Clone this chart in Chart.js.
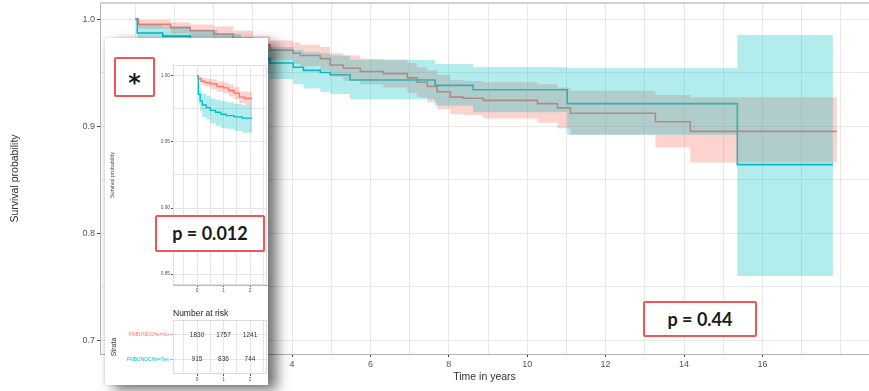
<!DOCTYPE html>
<html><head><meta charset="utf-8">
<script src="https://cdn.jsdelivr.net/npm/chart.js@4.4.0/dist/chart.umd.min.js"></script>
<style>
html,body{margin:0;padding:0;background:#fff;}
#wrap{position:relative;width:869px;height:391px;overflow:hidden;font-family:"Liberation Sans",Arial,sans-serif;}
#main{position:absolute;left:0;top:0;}
#inset{position:absolute;left:105px;top:38px;width:163px;height:347px;background:#fff;overflow:hidden;
  box-shadow:9px 5px 12px rgba(0,0,0,0.55), -1px 0 3px rgba(0,0,0,0.15);}
.rbox{position:absolute;box-sizing:border-box;border:2px solid #ef5656;background:#fff;border-radius:2px;
  font-family:Lato,"Open Sans",sans-serif;font-weight:700;color:#1a1a1a;text-align:center;}
#pmain{left:643px;top:301px;width:114px;height:36px;line-height:32px;font-size:18px;}
#star{left:9px;top:19px;width:41px;height:40px;line-height:36px;font-size:24px;font-family:"DejaVu Sans",sans-serif;}
#star span{position:relative;top:6px;}
#pinset{left:50px;top:177px;width:110px;height:37px;line-height:33px;font-size:18px;}
#nrisk{position:absolute;left:68px;top:270px;font-size:8.5px;color:#222;white-space:nowrap;}
#kmInset{position:absolute;left:2px;top:22px;}
#riskCanvas{position:absolute;left:2px;top:278px;}
</style></head>
<body>
<div id="wrap">
  <canvas id="main" width="869" height="391"></canvas>
  <div class="rbox" id="pmain">p = 0.44</div>
  <div id="inset">
    <div class="rbox" id="star"><span>*</span></div>
    <canvas id="kmInset" width="161" height="237"></canvas>
    <div class="rbox" id="pinset">p = 0.012</div>
    <div id="nrisk">Number at risk</div>
    <canvas id="riskCanvas" width="161" height="69"></canvas>
  </div>
</div>
<script>
// ---------- Main Kaplan-Meier data ----------
const redTime = [0, 0.08, 0.9, 1.4, 2.0, 2.5, 3.0, 3.44, 4.03, 4.21, 4.72, 4.97, 5.31, 5.74, 6.33, 6.94, 7.19, 7.45, 7.7, 8.04, 8.37, 8.88, 10.26, 10.77, 11.1, 13.27, 14.16, 17.9];
const redSurv = [1.000, 0.995, 0.992, 0.989, 0.986, 0.982, 0.976, 0.971, 0.968, 0.966, 0.963, 0.957, 0.954, 0.951, 0.949, 0.945, 0.941, 0.937, 0.932, 0.927, 0.926, 0.924, 0.921, 0.917, 0.912, 0.904, 0.895, 0.895];
const redHi   = [1.000, 0.999, 0.997, 0.995, 0.993, 0.989, 0.984, 0.980, 0.978, 0.976, 0.974, 0.968, 0.966, 0.963, 0.962, 0.959, 0.955, 0.952, 0.948, 0.943, 0.942, 0.941, 0.939, 0.936, 0.933, 0.929, 0.927, 0.927];
const redLo   = [1.000, 0.991, 0.987, 0.983, 0.979, 0.975, 0.968, 0.962, 0.958, 0.956, 0.952, 0.946, 0.942, 0.939, 0.936, 0.931, 0.927, 0.922, 0.916, 0.911, 0.910, 0.907, 0.903, 0.898, 0.892, 0.880, 0.866, 0.866];

const cyanTime = [0, 0.05, 0.7, 1.4, 2.1, 2.7, 3.1, 3.44, 4.03, 4.29, 4.72, 4.97, 5.48, 7.65, 8.62, 11.02, 15.36, 17.8];
const cyanSurv = [1.000, 0.987, 0.984, 0.979, 0.974, 0.968, 0.963, 0.959, 0.955, 0.952, 0.950, 0.948, 0.943, 0.938, 0.934, 0.921, 0.864, 0.864];
const cyanHi   = [1.000, 0.995, 0.993, 0.990, 0.986, 0.982, 0.977, 0.974, 0.971, 0.969, 0.968, 0.966, 0.962, 0.958, 0.955, 0.954, 0.985, 0.985];
const cyanLo   = [1.000, 0.979, 0.975, 0.968, 0.962, 0.954, 0.949, 0.944, 0.939, 0.935, 0.932, 0.930, 0.925, 0.919, 0.913, 0.892, 0.760, 0.760];

const xGrid = [0,1,2,3,4,5,6,7,8,9,10,11,12,13,14,15,16,17,18];
const xLabels = [0,2,4,6,8,10,12,14,16];
const yGrid = [0.70,0.75,0.80,0.85,0.90,0.95,1.00];
const yLabels = [0.7,0.8,0.9,1.0];

// ---------- Inset (first 2 years) data ----------
const inRedTime = [0, 0.05, 0.15, 0.3, 0.5, 0.75, 1.0, 1.2, 1.4, 1.6, 1.8, 2.08];
const inRedSurv = [1.000, 0.998, 0.996, 0.995, 0.994, 0.992, 0.991, 0.989, 0.987, 0.984, 0.983, 0.983];
const inRedHi   = [1.000, 0.9995, 0.999, 0.998, 0.9975, 0.996, 0.995, 0.9935, 0.9915, 0.9885, 0.988, 0.988];
const inRedLo   = [1.000, 0.9965, 0.9935, 0.992, 0.990, 0.988, 0.987, 0.9845, 0.9825, 0.9795, 0.978, 0.978];
const inCyanTime = [0, 0.05, 0.12, 0.2, 0.35, 0.5, 0.7, 0.9, 1.1, 1.4, 1.7, 2.08];
const inCyanSurv = [1.000, 0.986, 0.981, 0.978, 0.976, 0.974, 0.9725, 0.971, 0.970, 0.969, 0.968, 0.968];
const inCyanHi   = [1.000, 0.993, 0.989, 0.9865, 0.985, 0.983, 0.982, 0.981, 0.980, 0.979, 0.978, 0.978];
const inCyanLo   = [1.000, 0.979, 0.973, 0.969, 0.967, 0.964, 0.962, 0.9605, 0.960, 0.9585, 0.957, 0.957];
const inXGrid = [-0.5, 0, 0.5, 1, 1.5, 2, 2.5];
const inXLabels = [0, 1, 2];
const inYGrid = [0.85, 0.875, 0.90, 0.925, 0.95, 0.975, 1.00];
const inYLabels = [0.85, 0.90, 0.95, 1.00];

// ---------- Risk table ----------
const riskTimes = [0, 1, 2];
const riskRed = [1830, 1757, 1241];
const riskCyan = [915, 836, 744];
const strataLabels = ['FNBUNDCHe=No', 'FNBUNDCHe=Yes'];

const RED = '#F8766D', CYAN = '#00BFC4';
const RED_F = 'rgba(248,118,109,0.32)', CYAN_F = 'rgba(0,191,196,0.30)';
const pts = (t, v) => t.map((x, i) => ({x, y: v[i]}));
const near = (arr, v) => arr.some(m => Math.abs(m - v) < 1e-9);

function kmDatasets(rT, rS, rH, rL, cT, cS, cH, cL, lw) {
  const band = (d, fill, bg) => ({data: d, fill, backgroundColor: bg, borderWidth: 0, pointRadius: 0, stepped: 'before'});
  const line = (d, c) => ({data: d, fill: false, borderColor: c, borderWidth: lw, pointRadius: 0, stepped: 'before'});
  return [
    band(pts(cT, cH), '+1', CYAN_F),
    band(pts(cT, cL), false, 'transparent'),
    band(pts(rT, rH), '+1', RED_F),
    band(pts(rT, rL), false, 'transparent'),
    line(pts(cT, cS), CYAN),
    line(pts(rT, rS), RED)
  ];
}

const panelBorder = (color, width, onlyTop) => ({
  id: 'panelBorder',
  beforeDatasetsDraw(chart) {
    const {ctx, chartArea: a} = chart;
    ctx.save(); ctx.strokeStyle = color; ctx.lineWidth = width;
    ctx.beginPath();
    if (onlyTop) { ctx.moveTo(a.left, a.top); ctx.lineTo(a.right, a.top); }
    else { ctx.rect(a.left + 0.5, a.top + 0.5, a.right - a.left - 1, a.bottom - a.top - 1); }
    ctx.stroke(); ctx.restore();
  }
});

const noPad = s => { s.paddingTop = 0; s.paddingBottom = 0; s.paddingLeft = 0; s.paddingRight = 0; };

// ---------- Main chart ----------
new Chart(document.getElementById('main'), {
  type: 'line',
  data: {datasets: kmDatasets(redTime, redSurv, redHi, redLo, cyanTime, cyanSurv, cyanHi, cyanLo, 1.6)},
  options: {
    responsive: false, animation: false, events: [],
    layout: {padding: {top: 3, right: 0, left: 0, bottom: 0}},
    plugins: {legend: {display: false}, tooltip: {enabled: false}},
    scales: {
      x: {
        type: 'linear', min: -0.9, max: 18.72,
        afterBuildTicks: s => { s.ticks = xGrid.map(v => ({value: v})); },
        afterFit: s => { s.height = 37; noPad(s); },
        ticks: {autoSkip: false, maxRotation: 0, padding: 2, color: '#555', font: {size: 9, family: '"Liberation Sans", Arial'},
          callback: v => near(xLabels, v) ? String(v) : ''},
        grid: {color: '#e8e8e8', lineWidth: 1, tickLength: 3,
          tickColor: c => (c.tick && near(xLabels, c.tick.value)) ? '#444' : 'rgba(0,0,0,0)'},
        border: {color: '#b4b4b4', width: 1},
        title: {display: true, text: 'Time in years', color: '#333', font: {size: 10.5, family: '"Liberation Sans", Arial'}, padding: {top: 0, bottom: 8}}
      },
      y: {
        type: 'linear', min: 0.687, max: 1.015,
        afterBuildTicks: s => { s.ticks = yGrid.map(v => ({value: v})); },
        afterFit: s => { s.width = 100; noPad(s); },
        ticks: {autoSkip: false, padding: 2, color: '#555', font: {size: 9, family: '"Liberation Sans", Arial'},
          callback: v => near(yLabels, v) ? v.toFixed(1) : ''},
        grid: {color: '#e8e8e8', lineWidth: 1, tickLength: 3,
          tickColor: c => (c.tick && near(yLabels, c.tick.value)) ? '#444' : 'rgba(0,0,0,0)'},
        border: {color: '#b4b4b4', width: 1},
        title: {display: true, text: 'Survival probability', color: '#333', font: {size: 10.5, family: '"Liberation Sans", Arial'}, padding: {top: 8.5, bottom: 0}}
      }
    }
  },
  plugins: [panelBorder('#d2d2d2', 2, true)]
});

// ---------- Inset KM chart ----------
const smallFont = {size: 4.8, family: '"Liberation Sans", Arial'};
new Chart(document.getElementById('kmInset'), {
  type: 'line',
  data: {datasets: kmDatasets(inRedTime, inRedSurv, inRedHi, inRedLo, inCyanTime, inCyanSurv, inCyanHi, inCyanLo, 1.3)},
  options: {
    responsive: false, animation: false, events: [],
    layout: {padding: {top: 5, right: 1, left: 0, bottom: 0}},
    plugins: {legend: {display: false}, tooltip: {enabled: false}},
    scales: {
      x: {
        type: 'linear', min: -0.906, max: 2.64,
        afterBuildTicks: s => { s.ticks = inXGrid.map(v => ({value: v})); },
        afterFit: s => { s.height = 12; noPad(s); },
        ticks: {autoSkip: false, maxRotation: 0, padding: 1, color: '#555', font: smallFont,
          callback: v => near(inXLabels, v) ? String(v) : ''},
        grid: {color: '#e6e6e6', tickLength: 2,
          tickColor: c => (c.tick && near(inXLabels, c.tick.value)) ? '#555' : 'rgba(0,0,0,0)'},
        border: {color: '#bbb', width: 1}
      },
      y: {
        type: 'linear', min: 0.8417, max: 1.0083,
        afterBuildTicks: s => { s.ticks = inYGrid.map(v => ({value: v})); },
        afterFit: s => { s.width = 66; noPad(s); },
        ticks: {autoSkip: false, padding: 1, color: '#555', font: smallFont,
          callback: v => near(inYLabels, v) ? v.toFixed(2) : ''},
        grid: {color: '#e6e6e6', tickLength: 2,
          tickColor: c => (c.tick && near(inYLabels, c.tick.value)) ? '#555' : 'rgba(0,0,0,0)'},
        border: {color: '#bbb', width: 1},
        title: {display: true, text: 'Survival probability', color: '#444', font: {size: 5.5, family: '"Liberation Sans", Arial'}, padding: {top: 2.5, bottom: 0}}
      }
    }
  },
  plugins: [panelBorder('#dddddd', 1, false)]
});

// ---------- Risk table chart ----------
const riskNumbers = {
  id: 'riskNumbers',
  afterDatasetsDraw(chart) {
    const {ctx, scales: {x, y}} = chart;
    ctx.save();
    ctx.font = '6.5px "Liberation Sans", Arial'; ctx.fillStyle = '#333';
    ctx.textAlign = 'center'; ctx.textBaseline = 'middle';
    riskTimes.forEach((t, i) => {
      ctx.fillText(String(riskRed[i]), x.getPixelForValue(t), y.getPixelForValue(1));
      ctx.fillText(String(riskCyan[i]), x.getPixelForValue(t), y.getPixelForValue(2));
    });
    ctx.restore();
  }
};
new Chart(document.getElementById('riskCanvas'), {
  type: 'line',
  data: {datasets: [{data: riskTimes.map(t => ({x: t, y: 1})), pointRadius: 0, borderWidth: 0, showLine: false}]},
  options: {
    responsive: false, animation: false, events: [],
    layout: {padding: {top: 4, right: 1, left: 0, bottom: 0}},
    plugins: {legend: {display: false}, tooltip: {enabled: false}},
    scales: {
      x: {
        type: 'linear', min: -0.906, max: 2.64,
        afterBuildTicks: s => { s.ticks = inXGrid.map(v => ({value: v})); },
        afterFit: s => { s.height = 11; noPad(s); },
        ticks: {autoSkip: false, maxRotation: 0, padding: 1, color: '#555', font: smallFont,
          callback: v => near(inXLabels, v) ? String(v) : ''},
        grid: {color: '#e6e6e6', tickLength: 2,
          tickColor: c => (c.tick && near(inXLabels, c.tick.value)) ? '#555' : 'rgba(0,0,0,0)'},
        border: {display: false}
      },
      y: {
        type: 'linear', min: 0.4, max: 2.6, reverse: true,
        afterBuildTicks: s => { s.ticks = [1, 2].map(v => ({value: v})); },
        afterFit: s => { s.width = 66; noPad(s); },
        ticks: {autoSkip: false, padding: 1, font: {size: 5, family: '"Liberation Sans", Arial'},
          color: c => (c.tick && c.tick.value === 1) ? RED : CYAN,
          callback: v => strataLabels[v - 1] || ''},
        grid: {color: '#e6e6e6', tickLength: 3, tickColor: '#aaa'},
        border: {display: false},
        title: {display: true, text: 'Strata', color: '#333', font: {size: 7, family: '"Liberation Sans", Arial'}, padding: {top: 3, bottom: 0}}
      }
    }
  },
  plugins: [panelBorder('#dcdcdc', 1, false), riskNumbers]
});
</script>
</body></html>
